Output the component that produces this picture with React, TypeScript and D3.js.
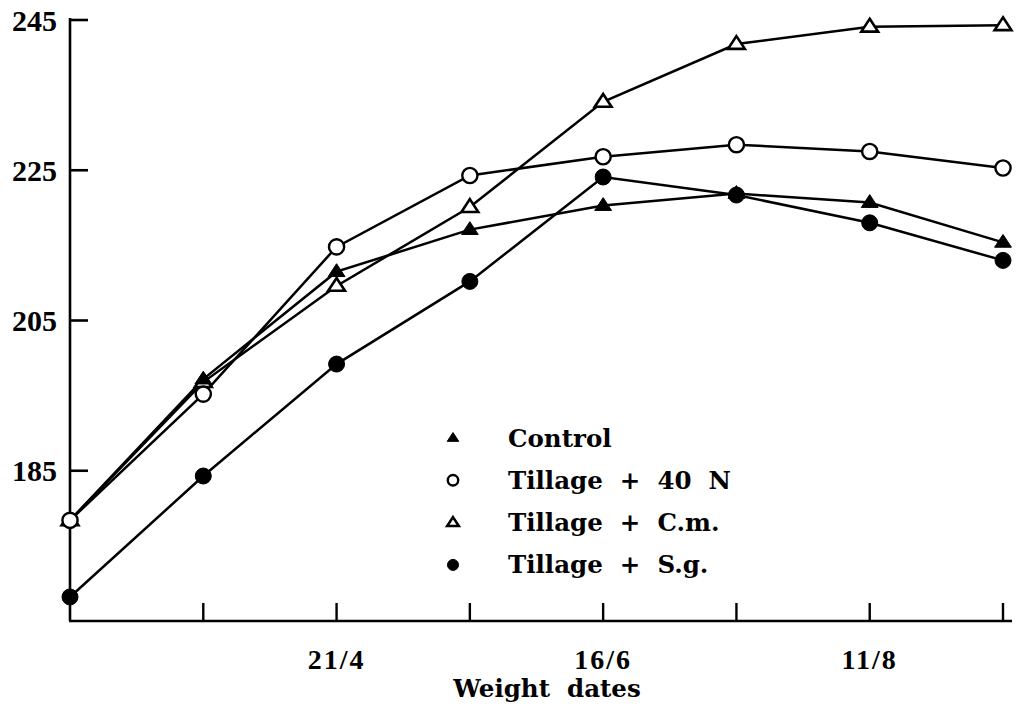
import React from "react";
import * as d3 from "d3";

const dates = ["", "", "21/4", "", "16/6", "", "11/8", ""];
const yTicks = [185, 205, 225, 245];

const control = [178.4, 197.2, 211.5, 217.1, 220.3, 221.9, 220.7, 215.4];
const tillage40N = [178.4, 195.2, 214.8, 224.3, 226.8, 228.4, 227.5, 225.3];
const tillageCm = [178.4, 196.8, 209.6, 220.1, 234.1, 241.8, 244.1, 244.3];
const tillageSg = [168.2, 184.3, 199.2, 210.2, 224.1, 221.7, 218.0, 213.0];

const seriesNames = ["Control", "Tillage  +  40  N", "Tillage  +  C.m.", "Tillage  +  S.g."];
const seriesKinds = ["triFill", "circOpen", "triOpen", "circFill"];
const seriesData = [control, tillage40N, tillageCm, tillageSg];
const markerDrawOrder = [2, 0, 3, 1];

const W = 1017;
const H = 718;

const x = d3.scaleLinear().domain([0, 7]).range([70, 1003]);
const y = d3.scaleLinear().domain([165, 245]).range([621, 20]);

function Marker({ kind, cx, cy, s }: { kind: string; cx: number; cy: number; s: number }) {
  if (kind.startsWith("circ")) {
    const open = kind === "circOpen";
    return (
      <circle
        cx={cx}
        cy={cy}
        r={open ? s * 0.95 : s}
        fill={open ? "#fff" : "#000"}
        stroke="#000"
        strokeWidth={open ? 2.4 : 1}
      />
    );
  }
  const open = kind === "triOpen";
  const h = s * 1.6;
  const w = s * 2.1;
  const p = `M${cx},${cy - h * 0.62} L${cx + w / 2},${cy + h * 0.38} L${cx - w / 2},${cy + h * 0.38} Z`;
  return <path d={p} fill={open ? "#fff" : "#000"} stroke="#000" strokeWidth={open ? 2.6 : 1} strokeLinejoin="miter" />;
}

export default function App() {
  const line = d3
    .line<number>()
    .x((_, i) => x(i))
    .y((d) => y(d));

  const legendX = 453;
  const legendTextX = 508;
  const legendY0 = 438;
  const legendDy = 42.3;

  return (
    <svg width={W} height={H} style={{ position: "absolute", left: 0, top: 0, background: "#fff" }}>
      <rect x={0} y={0} width={W} height={H} fill="#fff" />
      {/* axes */}
      <line x1={x(0)} y1={y(245) - 2} x2={x(0)} y2={y(165)} stroke="#000" strokeWidth={2.6} />
      <line x1={x(0) - 1} y1={y(165)} x2={1012} y2={y(165)} stroke="#000" strokeWidth={2.6} />
      {yTicks.map((t) => (
        <g key={t}>
          <line x1={x(0)} x2={x(0) + 18} y1={y(t)} y2={y(t)} stroke="#000" strokeWidth={2.6} />
          <text
            x={57}
            y={y(t)}
            dy="0.35em"
            textAnchor="end"
            fontFamily="'Liberation Serif', serif"
            fontWeight="bold"
            fontSize={30}
          >
            {t}
          </text>
        </g>
      ))}
      {dates.map((d, i) =>
        i === 0 ? null : (
          <g key={i}>
            <line x1={x(i)} x2={x(i)} y1={y(165)} y2={y(165) - 18} stroke="#000" strokeWidth={2.4} />
            {d && (
              <text
                x={x(i)}
                y={669}
                textAnchor="middle"
                fontFamily="'Liberation Serif', serif"
                fontWeight="bold"
                fontSize={28}
                letterSpacing={2}
              >
                {d}
              </text>
            )}
          </g>
        )
      )}
      <text
        x={547}
        y={697}
        textAnchor="middle"
        fontFamily="'DejaVu Serif', serif"
        fontWeight="bold"
        fontSize={24.5}
        style={{ whiteSpace: "pre" }}
      >
        {"Weight  dates"}
      </text>

      {/* lines */}
      {seriesData.map((s, k) => (
        <path key={k} d={line(s) || ""} fill="none" stroke="#000" strokeWidth={2.5} />
      ))}
      {/* markers */}
      {markerDrawOrder.map((k) =>
        seriesData[k].map((v, i) => <Marker key={`${k}-${i}`} kind={seriesKinds[k]} cx={x(i)} cy={y(v)} s={8} />)
      )}

      {/* legend */}
      {seriesNames.map((n, k) => (
        <g key={n}>
          <Marker kind={seriesKinds[k]} cx={legendX} cy={legendY0 + k * legendDy} s={5.5} />
          <text
            x={legendTextX}
            y={legendY0 + k * legendDy}
            dy="0.35em"
            fontFamily="'DejaVu Serif', serif"
            fontWeight="bold"
            fontSize={24.5}
            style={{ whiteSpace: "pre" }}
          >
            {n}
          </text>
        </g>
      ))}
    </svg>
  );
}
